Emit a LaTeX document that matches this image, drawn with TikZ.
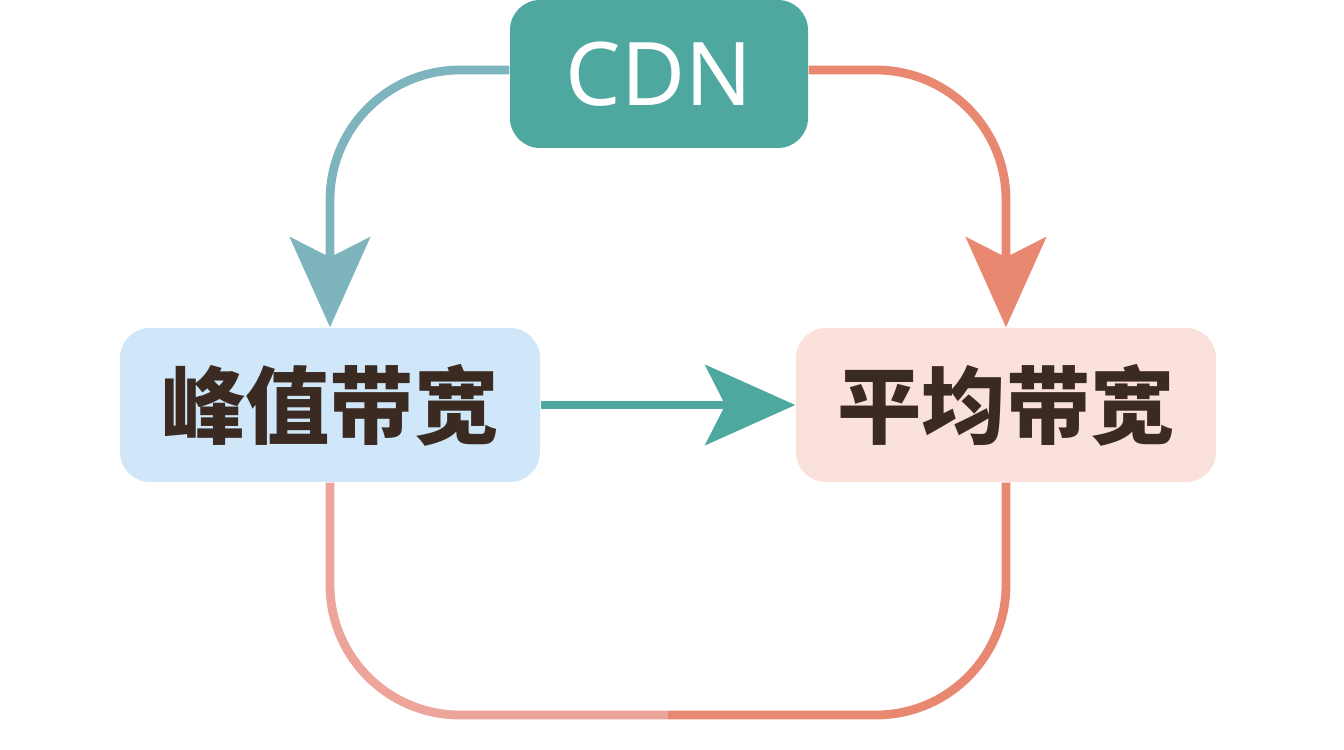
\documentclass[tikz,border=0pt]{standalone}
\usepackage{fontspec}
\setmainfont{Noto Sans}
\newfontfamily\cjk{Noto Sans CJK SC}
\usetikzlibrary{positioning, arrows.meta}
\definecolor{cdnTeal}{HTML}{4EA8A0}
\definecolor{peakBlue}{HTML}{CFE7F8}
\definecolor{avgPink}{HTML}{FBE1DC}
\definecolor{lineBlue}{HTML}{7DB4BD}
\definecolor{lineOrange}{HTML}{E98870}
\definecolor{lineRose}{HTML}{EDA49A}
\definecolor{textBrown}{HTML}{3A2A22}

\begin{document}
\begin{tikzpicture}[>={Stealth[length=9mm, width=8mm, inset=2mm]}]
        \useasboundingbox (0, 0) rectangle (13.44, 7.5);
        \tikzset{
            box/.style={rounded corners=3mm, minimum width=4.2cm, minimum height=1.54cm,
                font=\cjk\bfseries\fontsize{24}{28}\selectfont, text=textBrown},
            link/.style={line width=2.5pt, rounded corners=1.3cm}
        }
        
        % Boxes
        \node[box, fill=cdnTeal, minimum width=2.98cm, minimum height=1.48cm,
              text=white, font=\bfseries\fontsize{25}{30}\selectfont] (cdn) at (6.59, 6.76) {CDN};
        \node[box, fill=peakBlue] (peak) at (3.30, 3.45) {峰值带宽};
        \node[box, fill=avgPink] (avg) at (10.06, 3.45) {平均带宽};
        
        % Links from CDN
        \draw[->, link, lineBlue] ([yshift=0.04cm]cdn.west) -| (peak.north);
        \draw[->, link, lineOrange] ([yshift=0.04cm]cdn.east) -| (avg.north);
        
        % Peak to average
        \draw[->, line width=2.5pt, cdnTeal] (peak) -- (avg);
        
        % Loop underneath
        \coordinate (bottom) at (6.68, 0.35);
        \draw[link, lineRose] (peak.south) |- (bottom);
        \draw[link, lineOrange] (avg.south) |- (bottom);
    \end{tikzpicture}
\end{document}
